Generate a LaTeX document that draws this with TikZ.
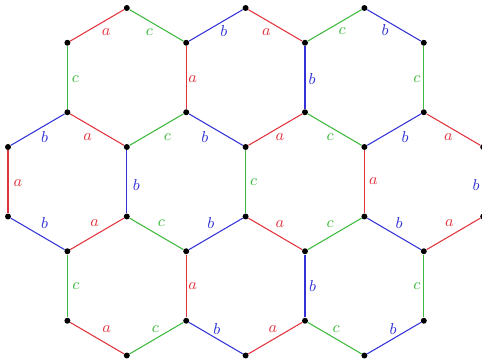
\documentclass[tikz,border=0pt]{standalone}
\usepackage{amsmath, amssymb}
\usepackage{tikz}

\definecolor{cola}{RGB}{225,50,60}
\definecolor{colb}{RGB}{50,50,215}
\definecolor{colc}{RGB}{60,185,60}

\begin{document}
\begin{tikzpicture}[x=0.02cm, y=-0.02cm,
    dot/.style={circle, fill=black, inner sep=0pt, minimum size=3.4pt},
    edge/.style={draw=col#1, line width=0.6pt},
    lab/.style={text=col#1, inner sep=0pt, font=\small}]
  \useasboundingbox (0,0) rectangle (482,358);
  \clip (0,0) rectangle (482,358);

  % Lattice points
  \foreach \j/\ilist in {0/{2,4,6}, 1/{1,3,5,7}, 2/{1,3,5,7}, 3/{0,2,4,6,8},
                         4/{0,2,4,6,8}, 5/{1,3,5,7}, 6/{1,3,5,7}, 7/{2,4,6}} {
    \pgfmathsetmacro\yy{{8,42.75,112.25,147,216.5,251.25,320.75,355.5}[\j]}
    \foreach \i in \ilist {
      \node[dot] (v\i\j) at ({8+59.4*\i}, \yy) {};
    }
  }

  % Top row of cells
  \foreach \p/\q/\l/\dx/\dy in {v20/v11/a/9/6.5, v20/v31/c/-7/6.5, v40/v31/b/8/6,
      v40/v51/a/-9/6.5, v60/v51/c/7.5/5.5, v60/v71/b/-9/4.5,
      v11/v12/c/8/1.5, v31/v32/a/6.5/1.5, v51/v52/b/7/1.5, v71/v72/c/-7/1.5,
      v12/v03/b/7/7, v12/v23/a/-9.5/7, v32/v23/c/11/7, v32/v43/b/-11/7,
      v52/v43/a/4.5/7, v52/v63/c/-4.5/7, v72/v63/b/11/7, v72/v83/a/-5/7} {
    \draw[edge=\l] (\p) -- (\q) node[midway, shift={(\dx,\dy)}, lab=\l] {$\l$};
  }

  % Middle row: the uprights
  \foreach \p/\q/\l/\dx/\dy in {v03/v04/a/10/1.5, v23/v24/b/9.5/3, v43/v44/c/8/0.5,
      v63/v64/a/9/-0.5, v83/v84/b/-7/3} {
    \draw[edge=\l] (\p) -- (\q) node[midway, shift={(\dx,\dy)}, lab=\l] {$\l$};
  }

  % Bottom row of cells
  \foreach \p/\q/\l/\dx/\dy in {v04/v15/b/7/-10.5, v24/v15/a/-2.5/-10.5,
      v24/v35/c/5/-10.5, v44/v35/b/-5/-10.5, v44/v55/a/4.5/-10,
      v64/v55/c/-4.5/-9.5, v64/v75/b/5/-10.5, v84/v75/a/-4/-10.5,
      v15/v16/c/8.5/0, v35/v36/a/6.5/0, v55/v56/b/7.5/0, v75/v76/c/-7/0,
      v16/v27/a/9.5/-9, v36/v27/c/-1/-9, v36/v47/b/1/-9,
      v56/v47/a/-2.5/-9, v56/v67/c/1.5/-9, v76/v67/b/-1/-9} {
    \draw[edge=\l] (\p) -- (\q) node[midway, shift={(\dx,\dy)}, lab=\l] {$\l$};
  }
\end{tikzpicture}
\end{document}
